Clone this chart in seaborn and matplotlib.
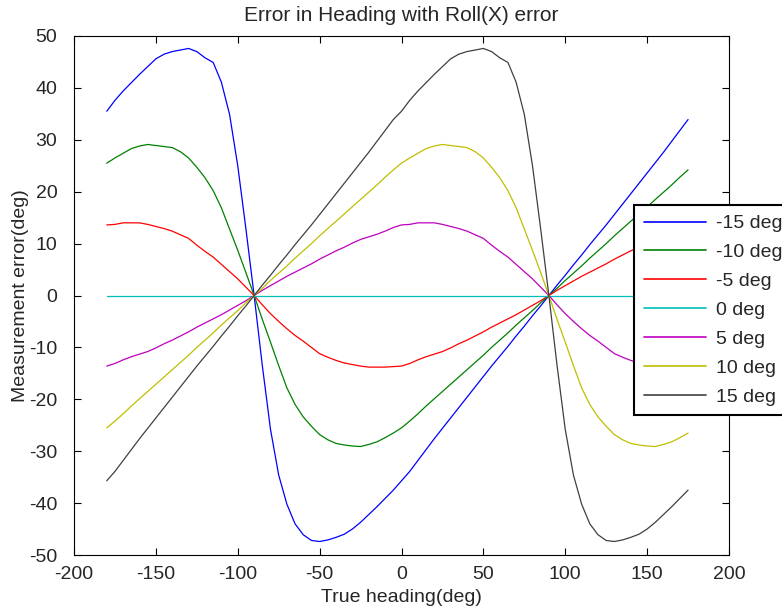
import numpy as np
import pandas as pd
import matplotlib
matplotlib.use("Agg")
import matplotlib.pyplot as plt
import seaborn as sns

# true heading, -180..175 in 5 deg steps
heading = list(range(-180, 180, 5))

roll_m15 = [35.5, 37.6, 39.4, 41.0, 42.6, 44.1, 45.6, 46.5, 47.0, 47.3, 47.6, 47.0, 45.8, 44.9, 41.1, 34.9, 25.0, 12.8,
            0.0, -13.5, -25.8, -34.6, -40.2, -44.0, -46.1, -47.2, -47.4, -47.1, -46.6, -46.0, -45.0, -43.7, -42.2, -40.7,
            -39.1, -37.5, -35.7, -33.9, -31.8, -29.7, -27.6, -25.6, -23.6, -21.6, -19.6, -17.6, -15.6, -13.6, -11.7, -9.8,
            -7.8, -5.9, -3.9, -2.0, 0.0, 2.0, 3.9, 5.9, 7.8, 9.8, 11.7, 13.6, 15.6, 17.6, 19.6, 21.6, 23.6, 25.6, 27.6,
            29.7, 31.8, 33.9]
roll_m10 = [25.5, 26.5, 27.4, 28.3, 28.8, 29.1, 28.9, 28.7, 28.5, 27.7, 26.5, 24.7, 22.7, 20.2, 16.9, 12.8, 8.7, 4.4,
            0.0, -4.6, -9.0, -13.5, -17.8, -21.0, -23.4, -25.2, -26.8, -27.8, -28.5, -28.8, -29.0, -29.1, -28.7, -28.2,
            -27.4, -26.5, -25.5, -24.2, -22.8, -21.3, -19.9, -18.5, -17.1, -15.7, -14.3, -12.9, -11.5, -10.0, -8.6, -7.2,
            -5.7, -4.3, -2.9, -1.4, 0.0, 1.4, 2.9, 4.3, 5.7, 7.2, 8.6, 10.0, 11.5, 12.9, 14.3, 15.7, 17.1, 18.5, 19.9,
            21.3, 22.8, 24.2]
roll_m5 = [13.6, 13.7, 14.0, 14.0, 14.0, 13.7, 13.3, 12.9, 12.4, 11.7, 11.0, 9.7, 8.5, 7.4, 6.0, 4.6, 3.2, 1.6,
           0.0, -1.8, -3.5, -5.0, -6.4, -7.7, -8.8, -10.0, -11.2, -11.9, -12.5, -13.0, -13.3, -13.6, -13.8, -13.8,
           -13.8, -13.7, -13.6, -13.1, -12.4, -11.8, -11.3, -10.8, -10.1, -9.3, -8.6, -7.8, -7.0, -6.1, -5.3, -4.5,
           -3.7, -2.8, -1.9, -1.0, 0.0, 1.0, 1.9, 2.8, 3.7, 4.5, 5.3, 6.1, 7.0, 7.8, 8.6, 9.3, 10.1, 10.8, 11.3,
           11.8, 12.4, 13.1]
roll_0 = [0.0] * 72
roll_p5 = [-13.6, -13.1, -12.4, -11.8, -11.3, -10.8, -10.1, -9.3, -8.6, -7.8, -7.0, -6.1, -5.3, -4.5, -3.7, -2.8, -1.9, -1.0,
           0.0, 1.0, 1.9, 2.8, 3.7, 4.5, 5.3, 6.1, 7.0, 7.8, 8.6, 9.3, 10.1, 10.8, 11.3, 11.8, 12.4, 13.1,
           13.6, 13.7, 14.0, 14.0, 14.0, 13.7, 13.3, 12.9, 12.4, 11.7, 11.0, 9.7, 8.5, 7.4, 6.0, 4.6, 3.2, 1.6,
           0.0, -1.8, -3.5, -5.0, -6.4, -7.7, -8.8, -10.0, -11.2, -11.9, -12.5, -13.0, -13.3, -13.6, -13.8, -13.8,
           -13.8, -13.7]
roll_p10 = [-25.5, -24.2, -22.8, -21.3, -19.9, -18.5, -17.1, -15.7, -14.3, -12.9, -11.5, -10.0, -8.6, -7.2, -5.7, -4.3, -2.9, -1.4,
            0.0, 1.4, 2.9, 4.3, 5.7, 7.2, 8.6, 10.0, 11.5, 12.9, 14.3, 15.7, 17.1, 18.5, 19.9, 21.3, 22.8, 24.2,
            25.5, 26.5, 27.4, 28.3, 28.8, 29.1, 28.9, 28.7, 28.5, 27.7, 26.5, 24.7, 22.7, 20.2, 16.9, 12.8, 8.7, 4.4,
            0.0, -4.6, -9.0, -13.5, -17.8, -21.0, -23.4, -25.2, -26.8, -27.8, -28.5, -28.8, -29.0, -29.1, -28.7, -28.2,
            -27.4, -26.5]
roll_p15 = [-35.7, -33.9, -31.8, -29.7, -27.6, -25.6, -23.6, -21.6, -19.6, -17.6, -15.6, -13.6, -11.7, -9.8, -7.8, -5.9, -3.9, -2.0,
            0.0, 2.0, 3.9, 5.9, 7.8, 9.8, 11.7, 13.6, 15.6, 17.6, 19.6, 21.6, 23.6, 25.6, 27.6, 29.7, 31.8, 33.9,
            35.5, 37.6, 39.4, 41.0, 42.6, 44.1, 45.6, 46.5, 47.0, 47.3, 47.6, 47.0, 45.8, 44.9, 41.1, 34.9, 25.0, 12.8,
            0.0, -13.5, -25.8, -34.6, -40.2, -44.0, -46.1, -47.2, -47.4, -47.1, -46.6, -46.0, -45.0, -43.7, -42.2, -40.7,
            -39.1, -37.5]

labels = ["-15 deg", "-10 deg", "-5 deg", "0 deg", "5 deg", "10 deg", "15 deg"]
series = [roll_m15, roll_m10, roll_m5, roll_0, roll_p5, roll_p10, roll_p15]
colors = ["#0000ff", "#008000", "#ff0000", "#00bfbf", "#bf00bf", "#bfbf00", "#404040"]

df = pd.concat([pd.DataFrame({"heading": heading, "error": s, "roll": lab})
                for s, lab in zip(series, labels)], ignore_index=True)

sns.set_theme(style="white")
plt.rcParams["font.family"] = ["Liberation Sans", "DejaVu Sans"]
plt.rcParams["axes.unicode_minus"] = False
plt.rcParams["xtick.direction"] = "in"
plt.rcParams["ytick.direction"] = "in"

fig = plt.figure(figsize=(7.82, 6.11), dpi=100)
ax = fig.add_axes([74 / 782, 1 - 555 / 611, (729 - 74) / 782, (555 - 36) / 611])

sns.lineplot(data=df, x="heading", y="error", hue="roll", hue_order=labels,
             palette=dict(zip(labels, colors)), linewidth=0.9, ax=ax, legend=True)

ax.set_xlim(-200, 200)
ax.set_ylim(-50, 50)
ax.set_xticks(np.arange(-200, 201, 50))
ax.set_yticks(np.arange(-50, 51, 10))
ax.tick_params(axis="both", labelsize=14, length=5, width=0.8, color="black",
               top=True, right=True, bottom=True, left=True)
ax.tick_params(axis="x", pad=8)
ax.tick_params(axis="y", pad=12)
for sp in ax.spines.values():
    sp.set_color("black")
    sp.set_linewidth(0.8)

ax.set_title("Error in Heading with Roll(X) error", fontsize=15, pad=11)
ax.set_xlabel("True heading(deg)", fontsize=14, labelpad=4)
ax.set_ylabel("Measurement error(deg)", fontsize=14, labelpad=0)

handles, labs = ax.get_legend_handles_labels()
leg = ax.legend(handles, labs, loc="upper left", bbox_to_anchor=(634 / 782, 1 - 205 / 611),
                bbox_transform=fig.transFigure, fontsize=14, frameon=True, fancybox=False,
                edgecolor="black", framealpha=1, handlelength=3.2, handletextpad=0.5,
                labelspacing=0.58, borderpad=0.5, borderaxespad=0)
leg.get_frame().set_linewidth(1.5)
for line in leg.get_lines():
    line.set_linewidth(1.2)

fig.savefig("out.png", dpi=100)
